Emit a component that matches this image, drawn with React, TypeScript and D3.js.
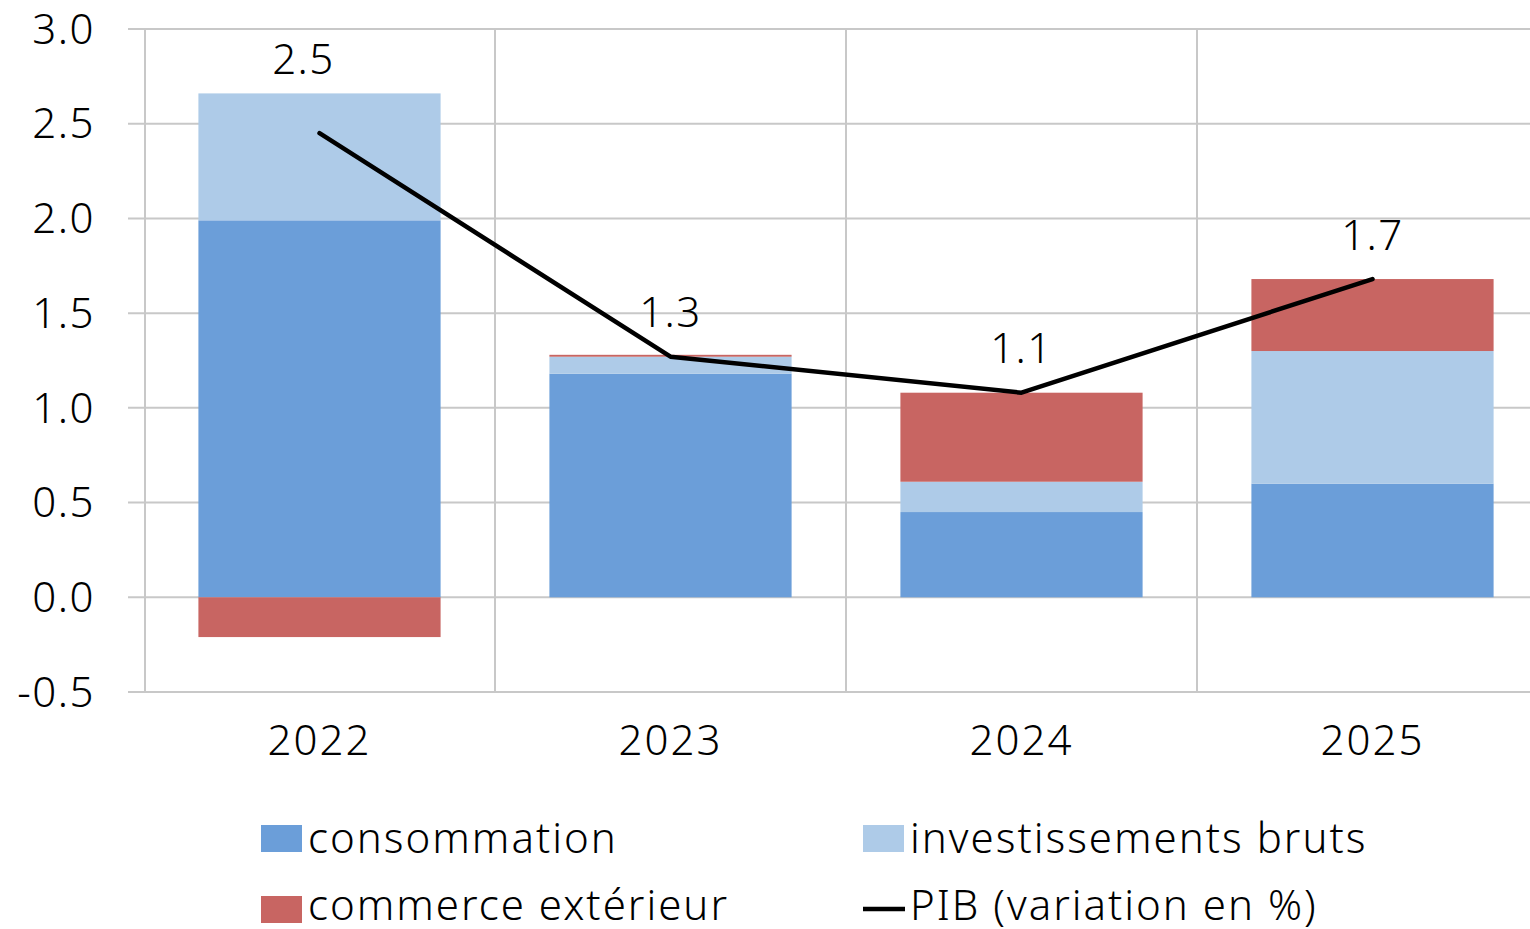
import React from "react";
import * as d3 from "d3";

const years = ["2022", "2023", "2024", "2025"];
const consommation = [1.99, 1.18, 0.45, 0.60];
const investissements = [0.67, 0.09, 0.16, 0.70];
const commerce = [-0.21, 0.01, 0.47, 0.38];
const pib = [2.45, 1.27, 1.08, 1.68];
const pibLabels = ["2.5", "1.3", "1.1", "1.7"];
const yTicks = [-0.5, 0, 0.5, 1, 1.5, 2, 2.5, 3];

const seriesNames = ["consommation", "investissements bruts", "commerce extérieur"];
const colors = ["#6B9ED9", "#AECBE8", "#C86562"];

const W = 1530, H = 929;
const left = 144, right = 1548, top = 29, bottom = 692;
const FONT = "'Noto Sans', 'Open Sans', sans-serif";
const FS = 42;
const LS = 2;

export default function App() {
  const x = d3.scaleBand<string>().domain(years).range([left, right]).paddingInner(0.31).paddingOuter(0.155);
  const xb = d3.scaleBand<string>().domain(years).range([left, right]);
  const y = d3.scaleLinear().domain([-0.5, 3]).range([bottom, top]);

  const data = years.map((yr, i) => ({ yr, c: consommation[i], inv: investissements[i], com: commerce[i] }));
  const keys = ["c", "inv", "com"];
  const stack = d3.stack<any>().keys(keys).offset(d3.stackOffsetDiverging);
  const series = stack(data);
  const cx = (i: number) => (xb(years[i]) as number) + xb.bandwidth() / 2;

  const line = d3.line<number>().x((_, i) => cx(i)).y((d) => y(d));

  // label placement: above the line point, but the first one is nudged above its bar
  const labelPos = (i: number) => {
    const barTop = y(consommation[i] + investissements[i] + Math.max(0, commerce[i]));
    if (i === 0) return { lx: cx(i) - 16, ly: barTop - 34 };
    return { lx: cx(i), ly: y(pib[i]) - 44 };
  };

  return (
    <svg width={W} height={H} style={{ position: "absolute", left: 0, top: 0 }} fontFamily={FONT} fontWeight={300}>
      <rect width={W} height={H} fill="#fff" />
      {yTicks.map((t) => (
        <g key={t}>
          <line x1={128} x2={W} y1={y(t)} y2={y(t)} stroke="#c8c8c8" strokeWidth={2} />
          <text x={95} y={y(t)} dy="0.35em" textAnchor="end" fontSize={FS} letterSpacing={1.5} fill="#000">
            {t.toFixed(1)}
          </text>
        </g>
      ))}
      {years.map((yr, i) => (
        <line key={yr} x1={(xb(yr) as number) + (i === 0 ? 1 : 0)} x2={(xb(yr) as number) + (i === 0 ? 1 : 0)} y1={top} y2={bottom} stroke="#c8c8c8" strokeWidth={2} />
      ))}
      {series.map((s, si) => (
        <g key={si}>
          {s.map((d, i) => (
            <rect
              key={i}
              x={x(years[i])}
              width={x.bandwidth()}
              y={y(Math.max(d[0], d[1]))}
              height={Math.abs(y(d[0]) - y(d[1]))}
              fill={colors[si]}
            />
          ))}
        </g>
      ))}
      <path d={line(pib) || ""} fill="none" stroke="#000" strokeWidth={4.5} strokeLinejoin="round" strokeLinecap="round" />
      {pib.map((v, i) => {
        const p = labelPos(i);
        return (
          <text key={i} x={p.lx} y={p.ly} dy="0.35em" textAnchor="middle" fontSize={FS} letterSpacing={1.5}>
            {pibLabels[i]}
          </text>
        );
      })}
      {years.map((yr, i) => (
        <text key={yr} x={cx(i)} y={740} dy="0.35em" textAnchor="middle" fontSize={FS} letterSpacing={LS}>
          {yr}
        </text>
      ))}
      <g fontSize={FS} letterSpacing={LS}>
        <rect x={261} y={825} width={41} height={27} fill={colors[0]} />
        <text x={308} y={838} dy="0.35em">{seriesNames[0]}</text>
        <rect x={863} y={825} width={41} height={27} fill={colors[1]} />
        <text x={910} y={838} dy="0.35em">{seriesNames[1]}</text>
        <rect x={261} y={896} width={41} height={27} fill={colors[2]} />
        <text x={308} y={905} dy="0.35em">{seriesNames[2]}</text>
        <line x1={863} x2={905} y1={909} y2={909} stroke="#000" strokeWidth={4.5} />
        <text x={910} y={905} dy="0.35em">PIB (variation en %)</text>
      </g>
    </svg>
  );
}
